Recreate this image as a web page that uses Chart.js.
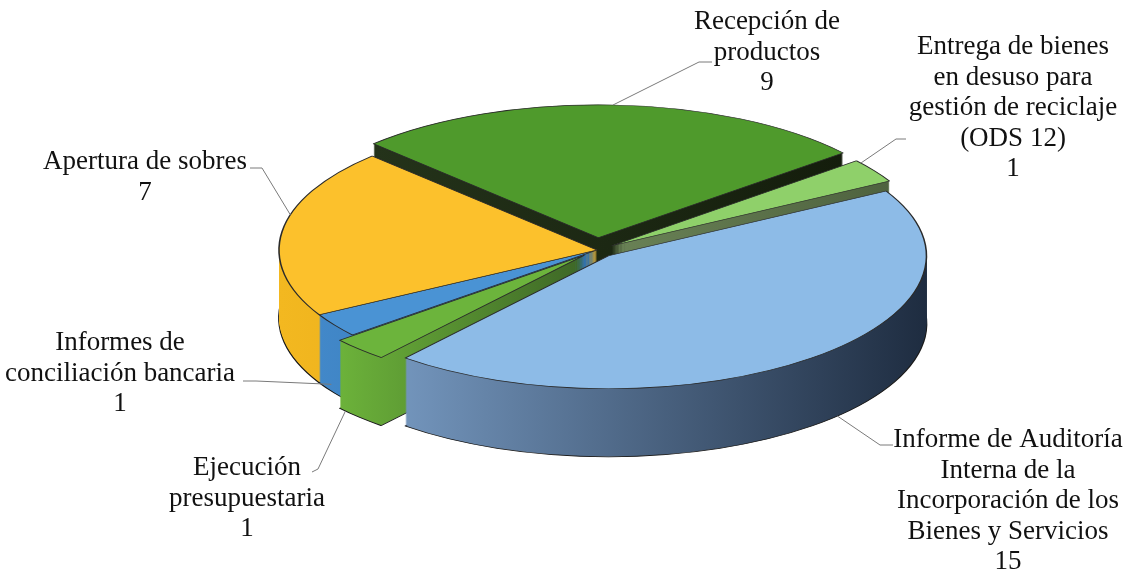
<!DOCTYPE html>
<html><head><meta charset="utf-8">
<script src="https://cdn.jsdelivr.net/npm/chart.js@4.4.1/dist/chart.umd.min.js"></script>
<style>html,body{margin:0;padding:0;background:#fff}canvas{display:block}</style>
</head><body>
<canvas id="c" width="1126" height="570"></canvas>
<script>
// ---- data ----
const categories = [
  ['Recepción de', 'productos'],
  ['Entrega de bienes', 'en desuso para', 'gestión de reciclaje', '(ODS 12)'],
  ['Informe de Auditoría', 'Interna de la', 'Incorporación de los', 'Bienes y Servicios'],
  ['Ejecución', 'presupuestaria'],
  ['Informes de', 'conciliación bancaria'],
  ['Apertura de sobres']
];
const values = [9, 1, 15, 1, 1, 7];

// ---- style ----
const topColors = ['#4f9a2c', '#8fd06a', '#8dbbe7', '#6cb43c', '#4a93d4', '#fcc12c'];
const sideColors = [
  ['#24331a', '#141d0c'],
  ['#6a8256', '#4e623f'],
  ['#7294bb', '#1e2c40'],
  ['#6cb23a', '#3d6626'],
  ['#4288c9', '#3070aa'],
  ['#f3b820', '#e2a416']
];
const explode = [26, 16, 16, 16, 0, 0];
const VIEW = { cx: 597, cy: 250, rx: 318, ry: 133, depth: 68 };
const LH = 30.5;
const FONT = '27px "Liberation Serif", "DejaVu Serif", "Times New Roman", serif';
const labelLayout = [
  { x: 767, y: 22, path: [[712, 62], [699, 62]], t: 0.5, h: 0 },
  { x: 1013, y: 47, path: [[906, 139], [896, 139]], t: 0.12, h: 0 },
  { x: 1008, y: 440, path: [[893, 445], [880, 445]], t: 0.46, h: 1 },
  { x: 247, y: 468, path: [[312, 472], [318, 469]], t: 0.85, h: 1 },
  { x: 120, y: 343, path: [[243, 381], [256, 381]], t: 0.6, h: 0.9 },
  { x: 145, y: 162, path: [[250, 168], [262, 168]], t: 0.6, h: 0 }
];

function pieTransform(ctx, arc, dy) {
  const R = arc.outerRadius;
  ctx.translate(0, dy);
  ctx.translate(VIEW.cx, VIEW.cy);
  ctx.scale(VIEW.rx / R, VIEW.ry / R);
  ctx.translate(-arc.x, -arc.y);
}

function midOf(arc) { return (arc.startAngle + arc.endAngle) / 2; }

function sideGradient(ctx, arc, cols) {
  let minx = arc.x, maxx = arc.x;
  for (let k = 0; k <= 40; k++) {
    const a = arc.startAngle + (arc.endAngle - arc.startAngle) * k / 40;
    const x = arc.x + Math.cos(a) * arc.outerRadius;
    minx = Math.min(minx, x); maxx = Math.max(maxx, x);
  }
  const g = ctx.createLinearGradient(minx, 0, maxx + 0.01, 0);
  g.addColorStop(0, cols[0]);
  g.addColorStop(1, cols[1]);
  return g;
}

const pie3d = {
  id: 'pie3d',
  beforeDatasetsDraw(chart) {
    const ctx = chart.ctx;
    const meta = chart.getDatasetMeta(0);
    const arcs = meta.data;
    const order = arcs.map((a, i) => i).sort((i, j) => {
      const mi = midOf(arcs[i]), mj = midOf(arcs[j]);
      return (Math.sin(mi) - 0.001 * Math.cos(mi)) - (Math.sin(mj) - 0.001 * Math.cos(mj));
    });
    // sides
    order.forEach(i => {
      const arc = arcs[i];
      const mid = midOf(arc);
      const saved = arc.options;
      for (let d = VIEW.depth; d >= 1; d--) {
        ctx.save();
        pieTransform(ctx, arc, d);
        ctx.translate(Math.cos(mid) * explode[i], Math.sin(mid) * explode[i]);
        const fill = sideGradient(ctx, arc, sideColors[i]);
        arc.options = Object.assign({}, saved, {
          backgroundColor: fill,
          borderColor: d === VIEW.depth ? '#1a1a1a' : fill,
          borderWidth: d === VIEW.depth ? 1.6 : 0
        });
        arc.draw(ctx);
        ctx.restore();
      }
      arc.options = saved;
    });
    // tops
    arcs.forEach((arc, i) => {
      const mid = midOf(arc);
      ctx.save();
      pieTransform(ctx, arc, 0);
      ctx.translate(Math.cos(mid) * explode[i], Math.sin(mid) * explode[i]);
      arc.draw(ctx);
      ctx.restore();
    });
    return false;
  }
};

const labelsPlugin = {
  id: 'pieLabels',
  afterDraw(chart) {
    const ctx = chart.ctx;
    const arcs = chart.getDatasetMeta(0).data;
    ctx.save();
    ctx.font = FONT;
    ctx.textAlign = 'center';
    ctx.textBaseline = 'middle';
    labelLayout.forEach((L, i) => {
      const arc = arcs[i];
      const R = arc.outerRadius;
      const mid = midOf(arc);
      const a = arc.startAngle + L.t * (arc.endAngle - arc.startAngle);
      const px = Math.cos(mid) * explode[i] + Math.cos(a) * R;
      const py = Math.sin(mid) * explode[i] + Math.sin(a) * R;
      const ax = VIEW.cx + px * VIEW.rx / R;
      const ay = VIEW.cy + py * VIEW.ry / R + L.h * VIEW.depth;
      ctx.strokeStyle = '#7a7a7a';
      ctx.lineWidth = 1;
      ctx.beginPath();
      L.path.forEach((p, k) => k === 0 ? ctx.moveTo(p[0], p[1]) : ctx.lineTo(p[0], p[1]));
      ctx.lineTo(ax, ay);
      ctx.stroke();
      ctx.fillStyle = '#111';
      const lines = categories[i].concat([String(values[i])]);
      lines.forEach((s, k) => ctx.fillText(s, L.x, L.y + k * LH));
    });
    ctx.restore();
  }
};

function build() {
  new Chart(document.getElementById('c'), {
    type: 'pie',
    data: {
      labels: categories,
      datasets: [{
        data: values,
        backgroundColor: topColors,
        borderColor: '#2a2a2a',
        borderWidth: 1.4
      }]
    },
    options: {
      responsive: false,
      animation: false,
      events: [],
      rotation: -45,
      layout: { padding: 0 },
      plugins: { legend: { display: false }, tooltip: { enabled: false } }
    },
    plugins: [pie3d, labelsPlugin]
  });
}
if (document.fonts && document.fonts.load) {
  document.fonts.load(FONT).then(build, build);
} else { build(); }
</script>
</body></html>
